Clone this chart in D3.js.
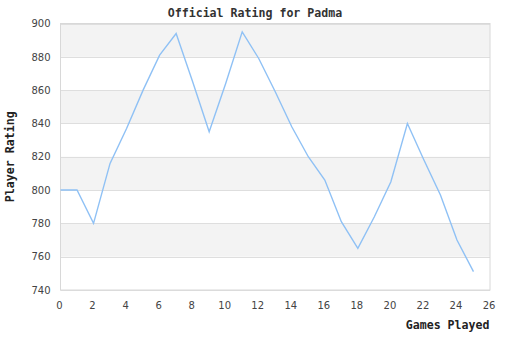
<!DOCTYPE html>
<html>
<head>
<meta charset="utf-8">
<script src="https://cdn.jsdelivr.net/npm/d3@7"></script>
<style>
  html, body { margin: 0; padding: 0; background: #fff; }
  svg { display: block; }
</style>
</head>
<body>
<svg id="chart" width="510" height="340"></svg>
<script>
// Rating after each game
const games = d3.range(0, 26);
const ratings = [800, 800, 780, 816, 837, 860, 881, 894, 865, 835, 864, 895, 879,
                 859, 838, 820, 806, 781, 765, 784, 805, 840, 818, 797, 770, 751];
const xTicks = d3.range(0, 27, 2);
const yTicks = d3.range(740, 901, 20);

const W = 510, H = 340;
const margin = { left: 60.5, right: 20, top: 23.5, bottom: 50 };
const svg = d3.select("#chart");

const x = d3.scaleLinear().domain([0, 26]).range([margin.left, W - margin.right]);
const y = d3.scaleLinear().domain([740, 900]).range([H - margin.bottom, margin.top]);

// alternating bands
const bands = d3.pairs(yTicks).filter((d, i) => i % 2 === 1);
svg.append("g").selectAll("rect").data(bands).join("rect")
  .attr("x", x(0)).attr("width", x(26) - x(0))
  .attr("y", d => y(d[1])).attr("height", d => y(d[0]) - y(d[1]))
  .attr("fill", "#f3f3f3");

// horizontal gridlines
svg.append("g").selectAll("line").data(yTicks).join("line")
  .attr("x1", x(0)).attr("x2", x(26))
  .attr("y1", d => Math.round(y(d)) + 0.5).attr("y2", d => Math.round(y(d)) + 0.5)
  .attr("stroke", "#dedede").attr("stroke-width", 1);

// frame
svg.append("rect")
  .attr("x", x(0)).attr("y", y(900))
  .attr("width", x(26) - x(0)).attr("height", y(740) - y(900))
  .attr("fill", "none").attr("stroke", "#d8d8d8");

// axes
const tickFont = "DejaVu Sans, sans-serif";
const yAxis = d3.axisLeft(y).tickValues(yTicks).tickSize(0).tickPadding(10);
const gy = svg.append("g").attr("transform", `translate(${x(0)},0)`).call(yAxis);
gy.select(".domain").remove();
gy.selectAll("text").attr("fill", "#444").style("font-family", tickFont).style("font-size", "10px");

const xAxis = d3.axisBottom(x).tickValues(xTicks).tickSize(0).tickPadding(12);
const gx = svg.append("g").attr("transform", `translate(-1.5,${y(740)})`).call(xAxis);
gx.select(".domain").remove();
gx.selectAll("text").attr("fill", "#444").style("font-family", tickFont).style("font-size", "10px");

// rating line
const line = d3.line().x((d, i) => x(games[i])).y(d => y(d));
svg.append("path").datum(ratings)
  .attr("d", line)
  .attr("fill", "none")
  .attr("stroke", "#8fc1f5")
  .attr("stroke-width", 1.4)
  .attr("stroke-linejoin", "miter");

// titles
const mono = "DejaVu Sans Mono, monospace";
svg.append("text").attr("x", 255).attr("y", 17)
  .attr("text-anchor", "middle").attr("fill", "#333")
  .style("font-family", mono).style("font-weight", "bold").style("font-size", "11.6px")
  .text("Official Rating for Padma");

svg.append("text").attr("x", x(26) - 0.5).attr("y", 329)
  .attr("text-anchor", "end").attr("fill", "#222")
  .style("font-family", mono).style("font-weight", "bold").style("font-size", "11.6px")
  .text("Games Played");

svg.append("text")
  .attr("transform", `translate(13.5,${(y(740) + y(900)) / 2}) rotate(-90)`)
  .attr("text-anchor", "middle").attr("fill", "#222")
  .style("font-family", mono).style("font-weight", "bold").style("font-size", "11.6px")
  .text("Player Rating");
</script>
</body>
</html>
